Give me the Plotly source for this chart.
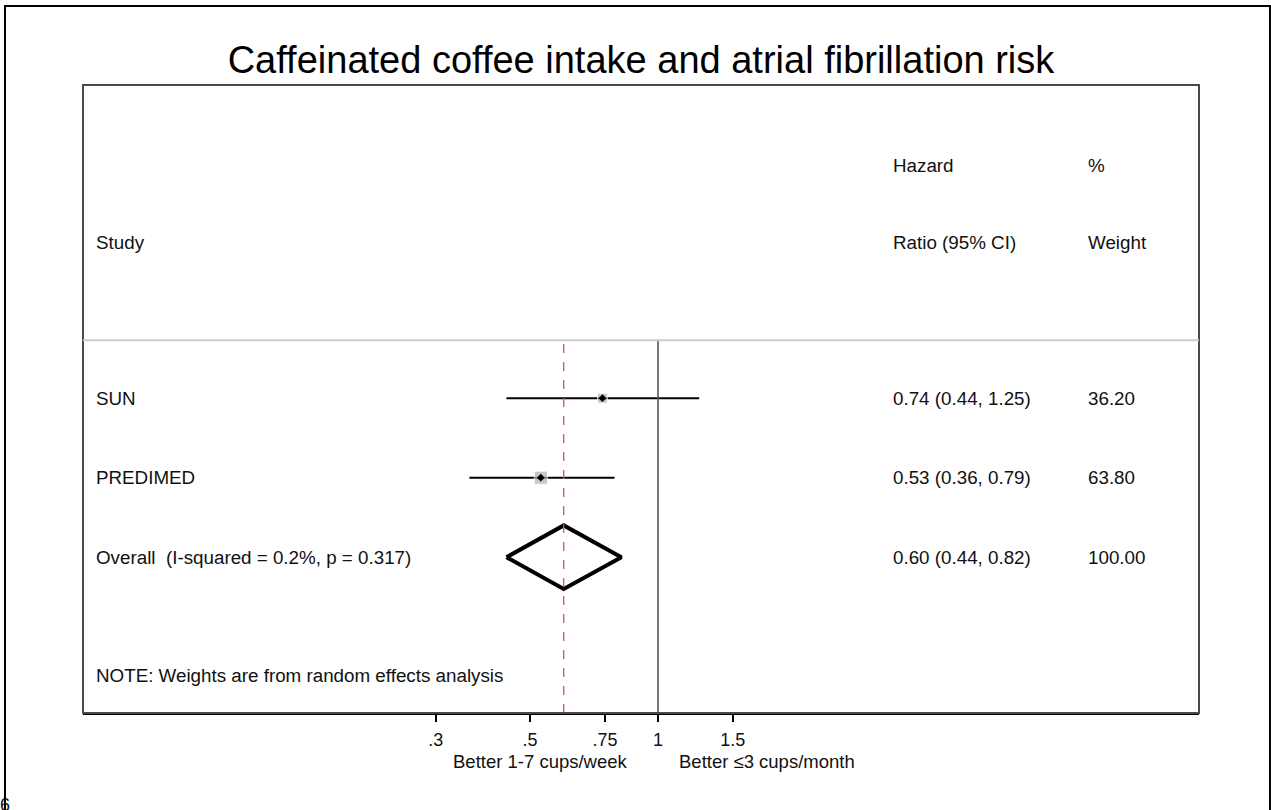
import plotly.graph_objects as go

# ---- data ----
studies = ["SUN", "PREDIMED"]
hr = [0.74, 0.53]
ci_low = [0.44, 0.36]
ci_high = [1.25, 0.79]
weights = [36.20, 63.80]
study_rows = [4, 3]

overall_label = "Overall  (I-squared = 0.2%, p = 0.317)"
overall_hr = 0.60
overall_low = 0.44
overall_high = 0.82
overall_weight = 100.00
overall_row = 2

tick_vals = [0.3, 0.5, 0.75, 1, 1.5]
tick_text = [".3", ".5", ".75", "1", "1.5"]

FONT = "Liberation Sans, Arial, Helvetica, sans-serif"
TXT = "#111111"
FS = 18.8

fig = go.Figure()

# CI lines
for r, lo, hi in zip(study_rows, ci_low, ci_high):
    fig.add_trace(go.Scatter(x=[lo, hi], y=[r, r], mode="lines",
                             line=dict(color="black", width=2), hoverinfo="skip"))

# weight boxes (size by weight)
fig.add_trace(go.Scatter(x=hr, y=study_rows, mode="markers",
                         marker=dict(symbol="square", color="#b0b0b0",
                                     size=[w ** 0.5 * 1.65 for w in weights]),
                         hoverinfo="skip"))
# point estimates
fig.add_trace(go.Scatter(x=hr, y=study_rows, mode="markers",
                         marker=dict(symbol="diamond", color="black", size=6),
                         hoverinfo="skip"))

# overall diamond
h = 0.4
fig.add_trace(go.Scatter(
    x=[overall_low, overall_hr, overall_high, overall_hr, overall_low],
    y=[overall_row, overall_row + h, overall_row, overall_row - h, overall_row],
    mode="lines", line=dict(color="black", width=4), hoverinfo="skip"))

sep_y = 4.73
# vertical reference lines
fig.add_trace(go.Scatter(x=[1, 1], y=[0.04, sep_y], mode="lines",
                         line=dict(color="#555555", width=1.6), hoverinfo="skip"))
fig.add_trace(go.Scatter(x=[overall_hr, overall_hr], y=[0.04, sep_y], mode="lines",
                         line=dict(color="#cc5570", width=1.3, dash="dash"), hoverinfo="skip"))

ann = []
def txt(x, y, s, size=FS, xanchor="left", yref="y", xref="paper"):
    ann.append(dict(x=x, y=y, xref=xref, yref=yref, text=s, showarrow=False,
                    xanchor=xanchor, yanchor="middle",
                    font=dict(family=FONT, size=size, color=TXT)))

col_study = 0.0099
col_hr = 0.7240
col_w = 0.8987

txt(col_hr, 6.93, "Hazard")
txt(col_w, 6.93, "%")
txt(col_study, 5.96, "Study")
txt(col_hr, 5.96, "Ratio (95% CI)")
txt(col_w, 5.96, "Weight")

for r, name, e, lo, hi, w in zip(study_rows, studies, hr, ci_low, ci_high, weights):
    txt(col_study, r, name)
    txt(col_hr, r, f"{e:.2f} ({lo:.2f}, {hi:.2f})")
    txt(col_w, r, f"{w:.2f}")

txt(col_study, overall_row, overall_label)
txt(col_hr, overall_row, f"{overall_hr:.2f} ({overall_low:.2f}, {overall_high:.2f})")
txt(col_w, overall_row, f"{overall_weight:.2f}")

txt(col_study, 0.516, "NOTE: Weights are from random effects analysis")

# bottom labels
ann.append(dict(x=0.490, y=-0.078, xref="paper", yref="paper", text="Better 1-7 cups/week",
                showarrow=False, xanchor="right", yanchor="middle",
                font=dict(family=FONT, size=18.5, color=TXT)))
ann.append(dict(x=0.532, y=-0.078, xref="paper", yref="paper", text="Better ≤3 cups/month",
                showarrow=False, xanchor="left", yanchor="middle",
                font=dict(family=FONT, size=18.5, color=TXT)))
# cropped page number at bottom-left
ann.append(dict(x=-0.0636, y=-0.1465, xref="paper", yref="paper", text="6",
                showarrow=False, xanchor="right", yanchor="middle",
                font=dict(family=FONT, size=18, color=TXT)))

shapes = [
    # outer frame
    dict(type="rect", xref="paper", yref="paper", x0=-0.0699, x1=1.0636, y0=-0.25, y1=1.1258,
         line=dict(color="black", width=2), layer="below"),
    # inner box
    dict(type="rect", xref="paper", yref="paper", x0=0, x1=1, y0=0, y1=1,
         line=dict(color="#4a4a4a", width=2)),
    # separator
    dict(type="line", xref="paper", yref="y", x0=0, x1=1, y0=sep_y, y1=sep_y,
         line=dict(color="#cccccc", width=2)),
]

fig.update_layout(
    width=1271, height=810,
    margin=dict(l=83, r=72, t=85, b=97),
    paper_bgcolor="white", plot_bgcolor="white",
    showlegend=False,
    title=dict(text="Caffeinated coffee intake and atrial fibrillation risk",
               x=0.5, xanchor="center", xref="paper", y=1 - 60 / 810, yanchor="middle",
               font=dict(family=FONT, size=38, color="black")),
    annotations=ann, shapes=shapes,
    xaxis=dict(type="log", range=[-1.353, 1.273], tickvals=tick_vals, ticktext=tick_text,
               ticks="outside", ticklen=7, tickwidth=1.5, tickcolor="black",
               ticklabelstandoff=2,
               showline=True, linecolor="black", linewidth=2, showgrid=False, zeroline=False,
               tickfont=dict(family=FONT, size=18, color=TXT)),
    yaxis=dict(range=[0.04, 7.94], visible=False, showgrid=False, zeroline=False),
)

fig.write_html("out.html", config={"displayModeBar": False},
               post_script="document.body.style.margin='0px';document.body.style.overflow='hidden';")
